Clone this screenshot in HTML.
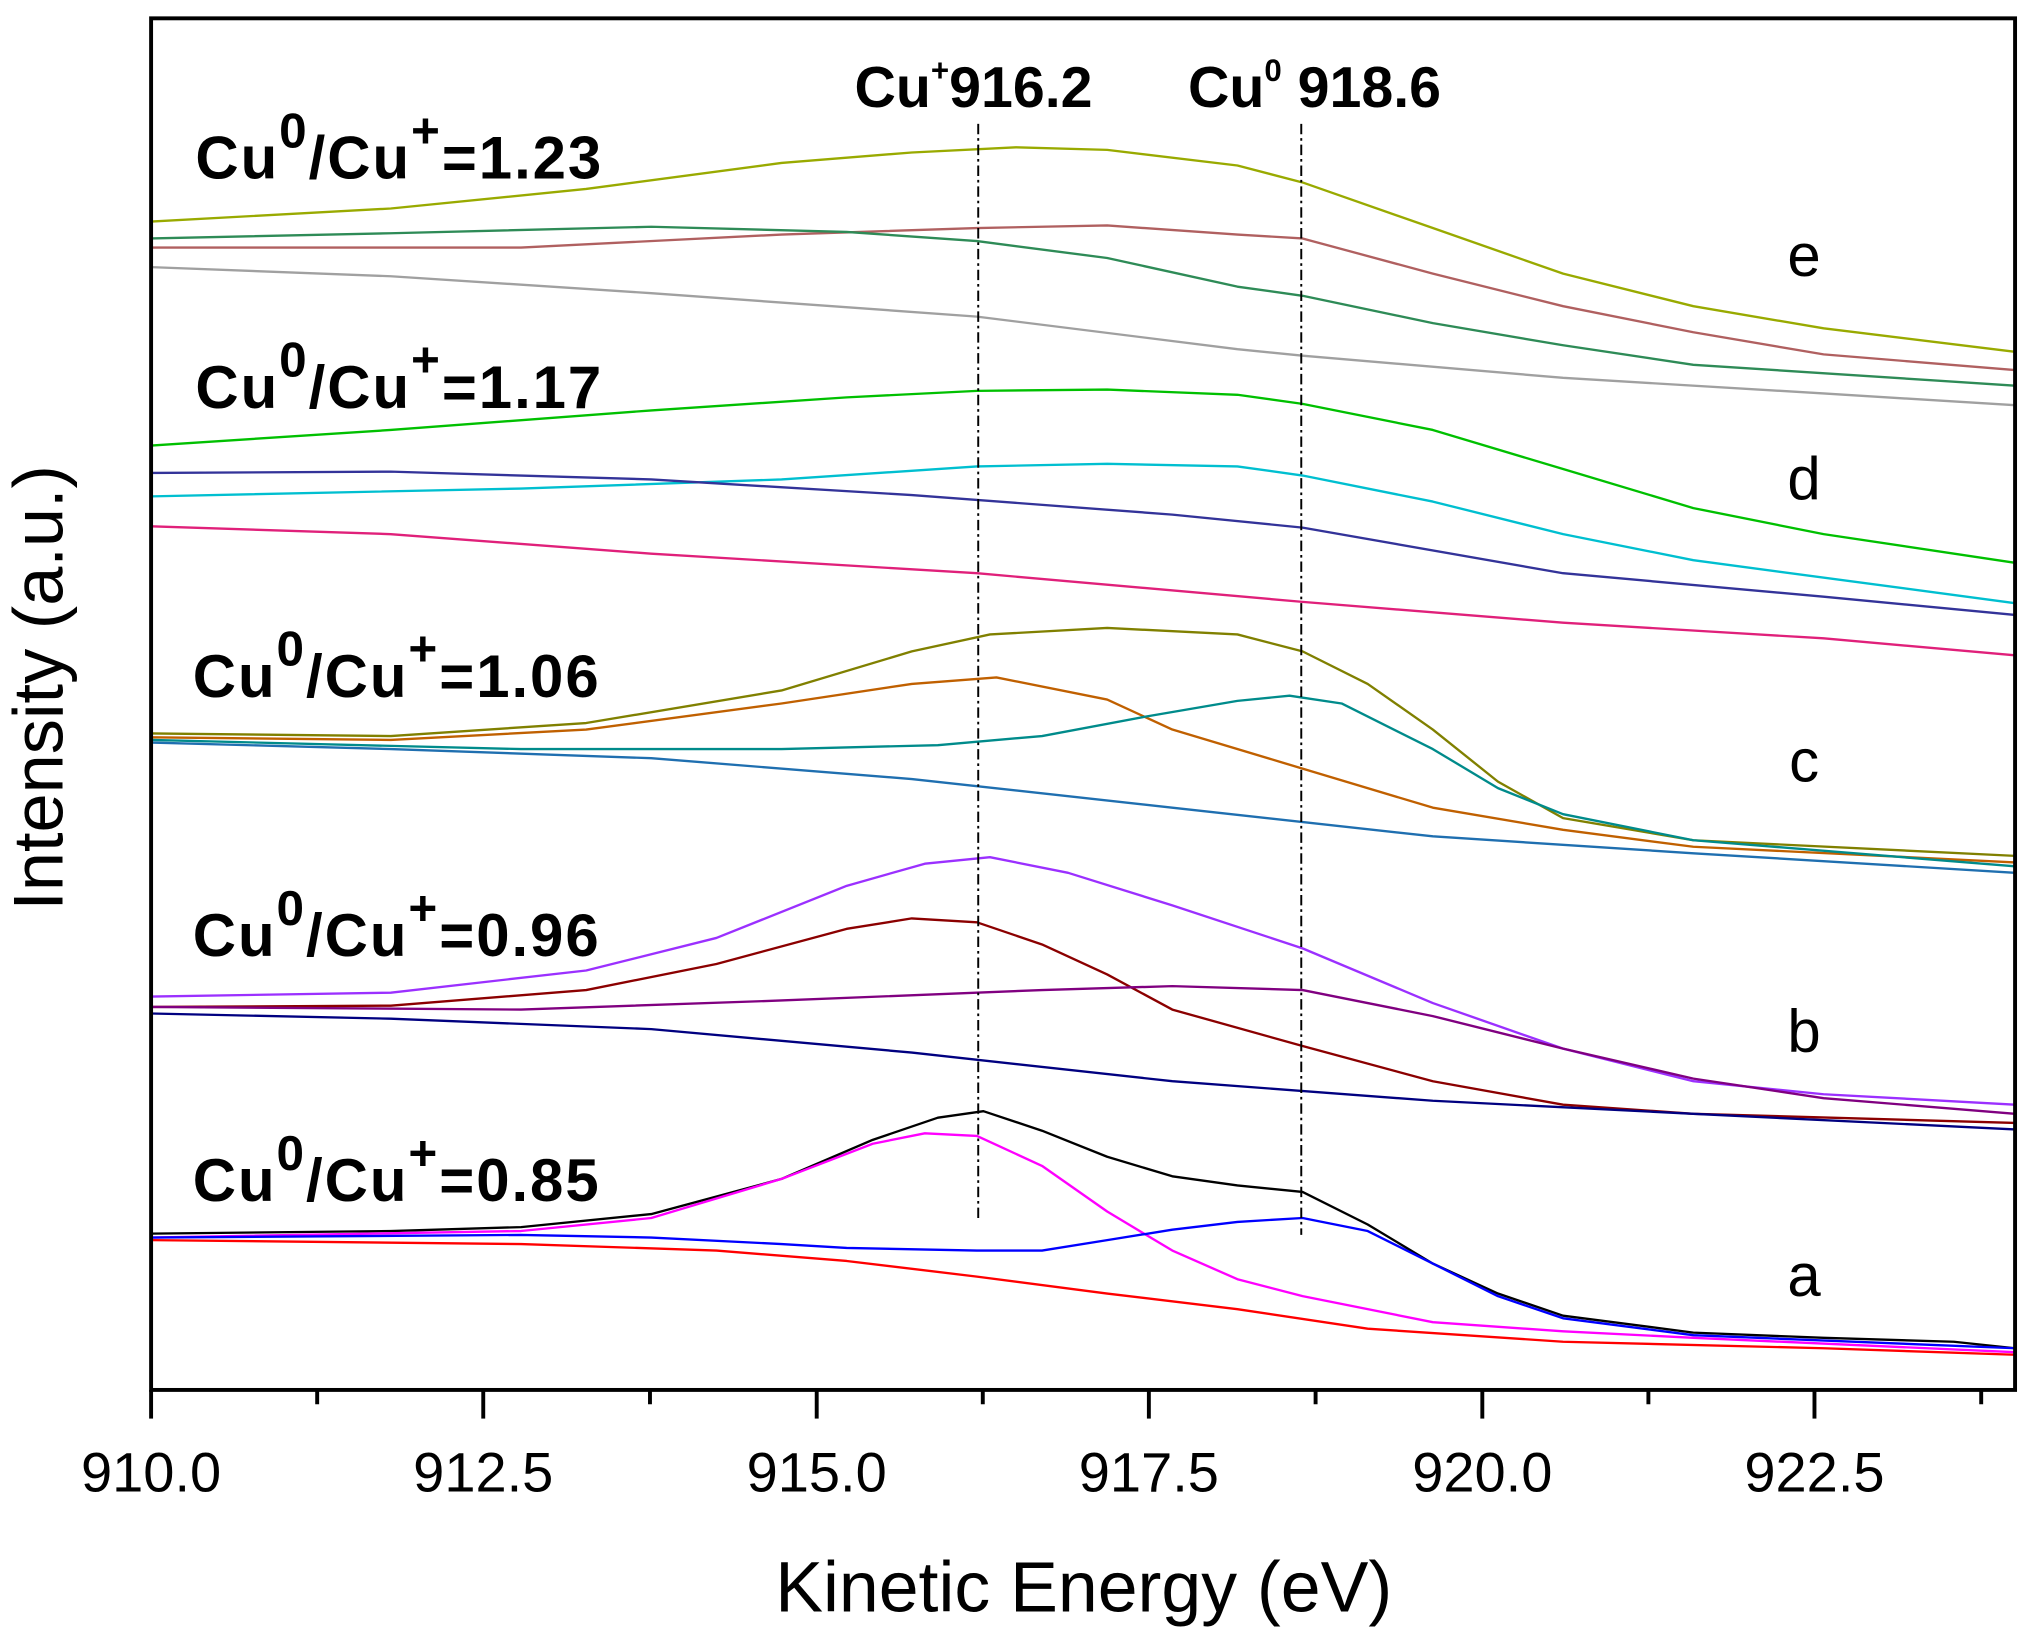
<!DOCTYPE html>
<html><head><meta charset="utf-8"><style>
html,body{margin:0;padding:0;background:#fff;}
svg{display:block;}
text{font-family:"Liberation Sans",Arial,sans-serif;}
</style></head><body>
<svg width="2032" height="1631" viewBox="0 0 1560 1252" xmlns="http://www.w3.org/2000/svg">
<rect width="1560" height="1252" fill="#fff"/>
<g fill="none" stroke-width="1.8" stroke-linejoin="round">
<polyline stroke="#99aa00" points="116,170 300,160 450,145 600,125 700,117 780,113 850,115 950,127 1000,140 1100,175 1200,210 1300,235 1400,252 1547,270"/>
<polyline stroke="#b06060" points="116,190 400,190 600,180 750,175 850,173 950,180 1000,183 1100,210 1200,235 1300,255 1400,272 1547,284"/>
<polyline stroke="#2e8b57" points="116,183 300,179 500,174 650,178 750,185 850,198 950,220 1000,227 1100,248 1200,265 1300,280 1547,296"/>
<polyline stroke="#a0a0a0" points="116,205 300,212 500,225 750,243 950,268 1000,273 1200,290 1400,302 1547,311"/>
<polyline stroke="#00c000" points="116,342 300,330 500,315 650,305 750,300 850,299 950,303 1000,310 1100,330 1200,360 1300,390 1400,410 1547,432"/>
<polyline stroke="#00bfd0" points="116,381 400,375 600,368 750,358 850,356 950,358 1000,365 1100,385 1200,410 1300,430 1547,463"/>
<polyline stroke="#333399" points="116,363 300,362 500,368 700,380 900,395 1000,405 1200,440 1400,458 1547,472"/>
<polyline stroke="#e0207a" points="116,404 300,410 500,425 750,440 1000,462 1200,478 1400,490 1547,503"/>
<polyline stroke="#808000" points="116,563 300,565 450,555 600,530 700,500 760,487 850,482 950,487 1000,500 1050,525 1100,560 1150,600 1200,628 1300,645 1547,657"/>
<polyline stroke="#c06000" points="116,566 300,568 450,560 600,540 700,525 765,520 850,537 900,560 1000,590 1100,620 1200,637 1300,650 1547,662"/>
<polyline stroke="#008b8b" points="116,568 400,575 600,575 720,572 800,565 880,550 950,538 990,534 1030,540 1100,575 1150,605 1200,625 1300,645 1547,665"/>
<polyline stroke="#1f6fb0" points="116,570 300,575 500,582 700,598 900,620 1100,642 1300,655 1547,670"/>
<polyline stroke="#9b30ff" points="116,765 300,762 450,745 550,720 650,680 710,663 760,658 820,670 900,695 1000,728 1100,770 1200,805 1300,830 1400,840 1547,848"/>
<polyline stroke="#8b0000" points="116,773 300,772 450,760 550,740 650,713 700,705 750,708 800,725 850,748 900,775 1000,803 1100,830 1200,848 1300,855 1547,862"/>
<polyline stroke="#800080" points="116,773 400,775 600,768 800,760 900,757 1000,760 1100,780 1200,805 1300,828 1400,843 1547,855"/>
<polyline stroke="#000080" points="116,778 300,782 500,790 700,808 900,830 1100,845 1300,855 1547,867"/>
<polyline stroke="#000" points="116,947 300,945 400,942 500,932 600,905 670,875 720,858 755,853 800,868 850,888 900,903 950,910 1000,915 1050,940 1100,970 1150,993 1200,1010 1300,1023 1400,1027 1500,1030 1547,1035"/>
<polyline stroke="#ff00ff" points="116,950 400,945 500,935 600,905 670,878 710,870 750,872 800,895 850,930 900,960 950,982 1000,995 1100,1015 1200,1022 1300,1027 1547,1038"/>
<polyline stroke="#0000ff" points="116,950 400,948 500,950 600,955 650,958 750,960 800,960 850,952 900,944 950,938 1000,935 1050,945 1100,970 1150,995 1200,1012 1300,1025 1547,1035"/>
<polyline stroke="#ff0000" points="116,952 400,955 550,960 650,968 750,980 850,993 950,1005 1050,1020 1200,1030 1400,1035 1547,1040"/>
</g>
<g stroke="#000" stroke-width="1.5" stroke-dasharray="8,3,2,3">
<line x1="751" y1="95" x2="751" y2="935"/>
<line x1="999" y1="95" x2="999" y2="948"/>
</g>
<rect x="116" y="14" width="1431" height="1053" fill="none" stroke="#000" stroke-width="3"/>
<g stroke="#000" stroke-width="3">
<line x1="116" y1="1067" x2="116" y2="1089"/><line x1="243.5" y1="1067" x2="243.5" y2="1078"/>
<line x1="371" y1="1067" x2="371" y2="1089"/><line x1="499" y1="1067" x2="499" y2="1078"/>
<line x1="627" y1="1067" x2="627" y2="1089"/><line x1="754.5" y1="1067" x2="754.5" y2="1078"/>
<line x1="882" y1="1067" x2="882" y2="1089"/><line x1="1010" y1="1067" x2="1010" y2="1078"/>
<line x1="1138" y1="1067" x2="1138" y2="1089"/><line x1="1265.5" y1="1067" x2="1265.5" y2="1078"/>
<line x1="1393" y1="1067" x2="1393" y2="1089"/><line x1="1521" y1="1067" x2="1521" y2="1078"/>
</g>
<g font-size="43" text-anchor="middle" fill="#000">
<text x="116" y="1145">910.0</text><text x="371" y="1145">912.5</text><text x="627" y="1145">915.0</text>
<text x="882" y="1145">917.5</text><text x="1138" y="1145">920.0</text><text x="1393" y="1145">922.5</text>
</g>
<text x="832" y="1237" font-size="55" text-anchor="middle">Kinetic Energy (eV)</text>
<text transform="translate(48,528) rotate(-90)" font-size="54" text-anchor="middle">Intensity (a.u.)</text>
<g font-size="46" font-weight="bold" fill="#000" letter-spacing="1.5">
<text x="150" y="137">Cu<tspan dy="-24" font-size="38">0</tspan><tspan dy="24">/Cu</tspan><tspan dy="-24" font-size="38">+</tspan><tspan dy="24">=1.23</tspan></text>
<text x="150" y="313">Cu<tspan dy="-24" font-size="38">0</tspan><tspan dy="24">/Cu</tspan><tspan dy="-24" font-size="38">+</tspan><tspan dy="24">=1.17</tspan></text>
<text x="148" y="535">Cu<tspan dy="-24" font-size="38">0</tspan><tspan dy="24">/Cu</tspan><tspan dy="-24" font-size="38">+</tspan><tspan dy="24">=1.06</tspan></text>
<text x="148" y="734">Cu<tspan dy="-24" font-size="38">0</tspan><tspan dy="24">/Cu</tspan><tspan dy="-24" font-size="38">+</tspan><tspan dy="24">=0.96</tspan></text>
<text x="148" y="922">Cu<tspan dy="-24" font-size="38">0</tspan><tspan dy="24">/Cu</tspan><tspan dy="-24" font-size="38">+</tspan><tspan dy="24">=0.85</tspan></text>
</g>
<g font-size="44" font-weight="bold" fill="#000">
<text x="656" y="82">Cu<tspan dy="-20" font-size="24">+</tspan><tspan dy="20">916.2</tspan></text>
<text x="912" y="82">Cu<tspan dy="-20" font-size="24">0</tspan><tspan dy="20"> 918.6</tspan></text>
</g>
<g font-size="46" fill="#000" text-anchor="middle">
<text x="1385" y="212">e</text><text x="1385" y="383">d</text><text x="1385" y="600">c</text>
<text x="1385" y="807">b</text><text x="1385" y="995">a</text>
</g>
</svg>
</body></html>
